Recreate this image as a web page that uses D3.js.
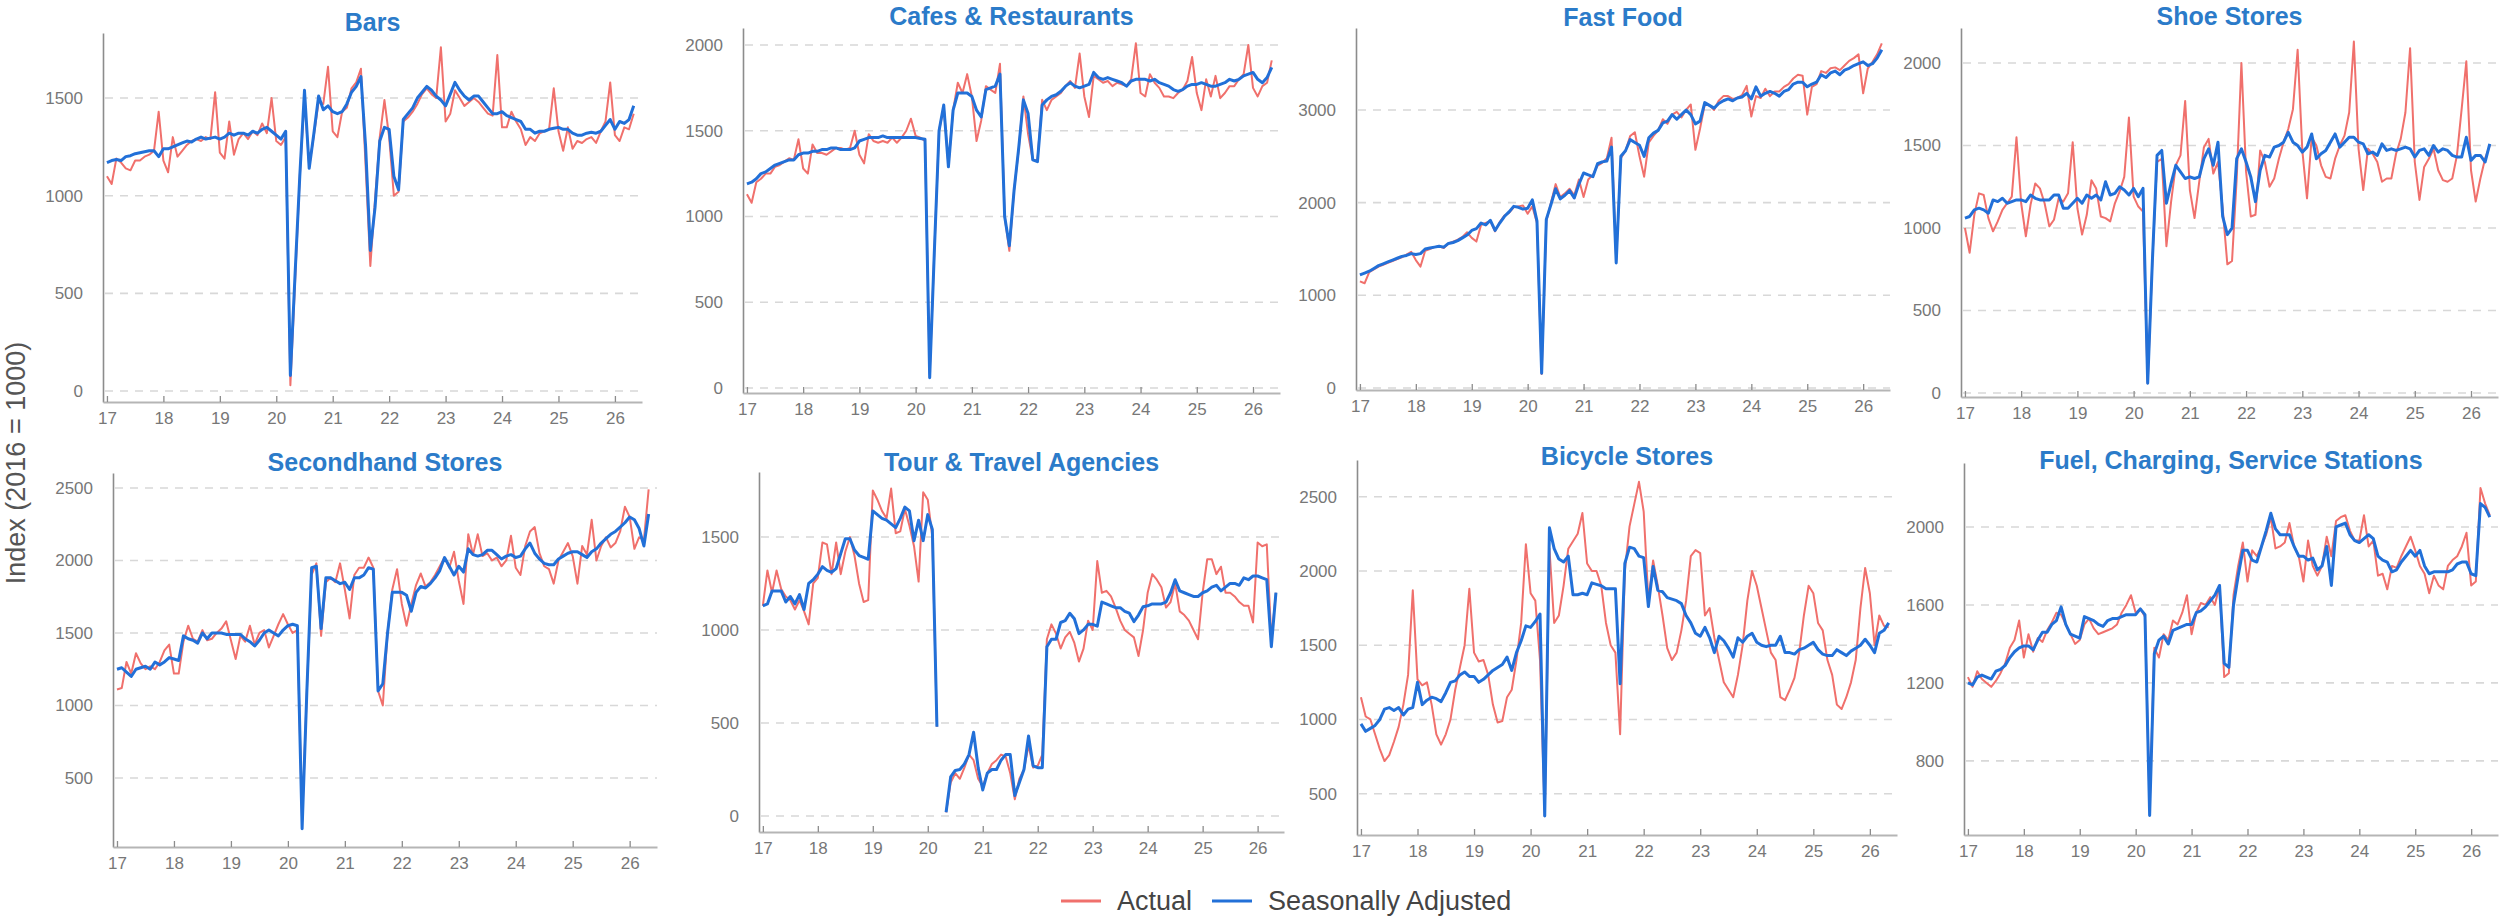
<!DOCTYPE html>
<html>
<head>
<meta charset="utf-8">
<script src="https://cdn.jsdelivr.net/npm/d3@7"></script>
<style>
  body { margin: 0; background: #fff; }
  svg text { font-family: "Liberation Sans", Arial, sans-serif; }
</style>
</head>
<body>
<div id="chart"></div>
<script>
// monthly index values, Jan 2017 .. May 2026 (one line per year)
var startYear = 2017;
var yearTicks = [2017, 2018, 2019, 2020, 2021, 2022, 2023, 2024, 2025, 2026];

var barsActual = [
  1100,1060,1190,1170,1140,1130,1180,1180,1200,1210,1230,1430,
  1180,1120,1300,1200,1230,1260,1280,1290,1280,1300,1290,1530,
  1220,1190,1380,1210,1290,1320,1290,1330,1310,1370,1320,1500,
  1280,1260,1300,30,560,1100,1500,1150,1310,1480,1470,1660,
  1330,1300,1430,1450,1550,1580,1650,1150,640,980,1300,1490,
  1300,1000,1020,1380,1400,1430,1470,1520,1550,1520,1500,1760,
  1380,1420,1540,1500,1460,1480,1500,1480,1450,1420,1410,1720,
  1350,1350,1430,1380,1340,1260,1300,1280,1320,1330,1340,1550,
  1330,1230,1350,1240,1280,1270,1290,1300,1270,1330,1380,1580,
  1310,1280,1350,1340,1420];
var barsSA = [
  1170,1180,1185,1180,1200,1205,1215,1220,1225,1230,1230,1200,
  1240,1240,1250,1260,1270,1280,1275,1290,1300,1290,1295,1300,
  1290,1300,1320,1310,1320,1320,1310,1330,1320,1340,1350,1330,
  1310,1290,1330,80,600,1100,1540,1140,1320,1510,1440,1460,
  1430,1420,1430,1470,1530,1560,1610,1250,720,940,1280,1350,
  1340,1100,1030,1390,1420,1450,1500,1530,1560,1540,1510,1490,
  1460,1520,1580,1540,1510,1490,1510,1510,1480,1450,1420,1420,
  1430,1410,1400,1390,1380,1340,1340,1320,1330,1330,1340,1345,
  1350,1340,1340,1320,1310,1310,1320,1325,1320,1330,1360,1390,
  1340,1380,1370,1390,1460];

var cafesActual = [
  1130,1080,1200,1220,1250,1250,1290,1300,1320,1340,1330,1450,
  1280,1250,1420,1370,1370,1360,1380,1400,1400,1390,1400,1500,
  1360,1310,1480,1440,1430,1440,1430,1460,1430,1460,1500,1570,
  1470,1460,1440,80,800,1500,1640,1300,1620,1780,1720,1830,
  1700,1440,1560,1760,1740,1720,1890,1000,800,1150,1390,1700,
  1480,1330,1330,1680,1620,1680,1700,1720,1760,1790,1750,1950,
  1700,1580,1820,1800,1780,1790,1760,1780,1770,1760,1800,2010,
  1720,1700,1830,1780,1750,1700,1700,1690,1720,1740,1790,1930,
  1720,1620,1800,1700,1820,1690,1720,1760,1760,1800,1830,2000,
  1750,1700,1760,1780,1910];
var cafesSA = [
  1190,1200,1220,1250,1260,1280,1300,1310,1320,1330,1330,1360,
  1370,1370,1380,1380,1390,1390,1400,1400,1390,1390,1390,1400,
  1440,1450,1460,1460,1460,1470,1460,1460,1460,1460,1460,1460,
  1460,1455,1450,60,800,1500,1650,1290,1620,1720,1720,1720,
  1700,1620,1580,1740,1750,1760,1830,1000,830,1150,1400,1680,
  1600,1330,1320,1650,1680,1700,1710,1730,1760,1780,1760,1750,
  1760,1770,1840,1810,1800,1810,1800,1790,1780,1760,1790,1800,
  1800,1800,1790,1800,1780,1770,1760,1740,1730,1740,1760,1770,
  1770,1780,1770,1760,1760,1770,1780,1800,1790,1800,1820,1830,
  1840,1800,1780,1810,1870];

var fastFoodActual = [
  1150,1130,1250,1280,1310,1330,1350,1370,1390,1410,1440,1470,
  1380,1310,1480,1500,1520,1530,1510,1560,1580,1600,1630,1680,
  1620,1580,1760,1780,1800,1690,1790,1860,1890,1950,1960,1970,
  1880,1960,1780,150,1800,2000,2200,2060,2100,2150,2080,2250,
  2060,2250,2300,2400,2430,2480,2700,1380,2480,2560,2720,2760,
  2500,2280,2650,2720,2780,2900,2850,2950,2980,2920,3000,3060,
  2570,2800,3060,3050,3000,3100,3150,3150,3120,3130,3160,3260,
  2930,3150,3130,3230,3150,3200,3200,3250,3280,3340,3380,3370,
  2950,3250,3280,3420,3400,3450,3460,3430,3480,3530,3560,3600,
  3180,3450,3520,3600,3720];
var fastFoodSA = [
  1220,1240,1260,1290,1320,1340,1360,1380,1400,1420,1430,1450,
  1440,1450,1500,1510,1520,1530,1520,1560,1570,1590,1620,1650,
  1700,1720,1780,1760,1810,1700,1780,1850,1900,1960,1950,1930,
  1940,2030,1800,160,1820,1980,2150,2040,2080,2130,2050,2200,
  2320,2300,2280,2420,2440,2450,2600,1350,2500,2560,2680,2650,
  2620,2500,2700,2750,2780,2860,2880,2950,2900,2950,3000,2950,
  2850,2880,3080,3050,3020,3070,3100,3120,3100,3130,3140,3180,
  3120,3250,3150,3180,3200,3180,3150,3200,3220,3280,3300,3300,
  3250,3280,3300,3380,3350,3400,3420,3380,3430,3450,3480,3500,
  3520,3480,3500,3560,3650];

var shoeActual = [
  1000,850,1080,1210,1200,1060,980,1040,1110,1150,1190,1550,
  1150,950,1140,1270,1240,1150,1010,1050,1180,1160,1210,1520,
  1120,960,1080,1290,1240,1070,1060,1040,1150,1220,1310,1670,
  1190,1130,1100,60,800,1400,1420,890,1160,1380,1440,1770,
  1230,1060,1280,1490,1540,1330,1400,1120,780,800,1300,2000,
  1340,1070,1080,1470,1400,1250,1300,1420,1520,1600,1720,2080,
  1470,1180,1550,1500,1380,1310,1300,1420,1500,1560,1700,2130,
  1480,1230,1480,1450,1400,1280,1300,1300,1450,1540,1700,2090,
  1400,1170,1370,1420,1480,1350,1290,1280,1300,1440,1720,2010,
  1350,1160,1300,1420,1500];
var shoeSA = [
  1060,1070,1110,1120,1110,1090,1170,1160,1180,1150,1160,1170,
  1170,1160,1200,1180,1170,1170,1170,1200,1200,1120,1120,1150,
  1180,1150,1200,1180,1200,1170,1280,1200,1210,1250,1230,1200,
  1240,1190,1240,60,800,1440,1470,1150,1270,1380,1340,1300,
  1310,1300,1310,1420,1480,1380,1520,1070,960,1000,1420,1480,
  1400,1310,1160,1350,1440,1430,1490,1500,1520,1580,1520,1500,
  1460,1490,1570,1420,1450,1470,1520,1570,1490,1520,1550,1550,
  1520,1510,1450,1460,1440,1510,1470,1480,1470,1480,1490,1480,
  1430,1470,1480,1440,1500,1460,1480,1470,1440,1430,1430,1550,
  1410,1440,1440,1400,1510];

var secondhandActual = [
  1110,1120,1300,1220,1360,1290,1250,1270,1250,1300,1380,1420,
  1220,1220,1440,1550,1460,1440,1520,1450,1460,1500,1530,1580,
  1450,1320,1480,1440,1550,1420,1500,1520,1400,1480,1560,1630,
  1560,1500,1520,200,1100,1900,1980,1480,1850,1880,1850,1980,
  1800,1600,1900,1950,1950,2020,1950,1100,1000,1500,1800,1940,
  1700,1550,1700,1830,1910,1820,1850,1900,1960,2020,1950,2060,
  1860,1700,2180,2040,2180,2030,2050,2000,2020,1960,2000,2170,
  1950,1900,2100,2200,2230,2050,1960,1940,1840,2000,2060,2120,
  2030,1840,2100,2040,2280,2000,2100,2160,2090,2120,2200,2370,
  2300,2080,2160,2140,2490];
var secondhandSA = [
  1250,1260,1230,1200,1250,1260,1270,1250,1300,1280,1300,1330,
  1320,1310,1480,1460,1450,1430,1500,1460,1500,1500,1500,1490,
  1490,1490,1490,1460,1440,1410,1450,1500,1520,1500,1480,1520,
  1550,1560,1550,150,1100,1950,1960,1530,1880,1880,1860,1840,
  1850,1800,1880,1880,1900,1950,1940,1100,1150,1500,1780,1780,
  1780,1760,1650,1780,1820,1810,1840,1880,1930,2020,1960,1900,
  1960,1920,2080,2040,2030,2040,2070,2070,2040,2010,2030,2040,
  2020,2030,2080,2120,2050,2010,1980,1970,1970,2010,2030,2050,
  2060,2060,2040,2020,2060,2080,2120,2150,2180,2200,2230,2260,
  2300,2280,2220,2100,2320];

var tourActual = [
  1130,1320,1200,1320,1220,1180,1160,1110,1160,1100,1030,1250,
  1280,1470,1460,1300,1470,1300,1420,1500,1400,1250,1150,1160,
  1750,1700,1640,1600,1760,1520,1530,1650,1560,1450,1260,1740,
  1700,1500,480,null,20,180,230,200,260,330,300,200,
  160,230,280,300,330,320,230,90,200,250,380,260,
  270,330,950,1030,980,900,960,990,930,830,900,1050,
  1000,1370,1200,1210,1180,1120,1050,1000,980,960,860,1000,
  1200,1300,1270,1230,1120,1150,1250,1100,1080,1050,1000,950,
  1200,1380,1380,1300,1340,1200,1200,1180,1150,1130,1130,1040,
  1470,1450,1460,950,1200];
var tourSA = [
  1130,1140,1210,1210,1210,1150,1180,1140,1190,1110,1250,1270,
  1300,1340,1320,1310,1330,1410,1490,1490,1430,1400,1390,1380,
  1640,1620,1600,1590,1570,1550,1600,1660,1640,1480,1590,1480,
  1620,1540,480,null,20,210,245,250,280,330,450,260,
  140,230,250,250,300,330,330,110,180,250,430,270,
  260,260,910,950,950,1040,1050,1090,1060,980,1000,1030,
  1030,1020,1150,1140,1130,1120,1120,1100,1090,1045,1080,1125,
  1130,1140,1140,1140,1150,1200,1270,1210,1200,1190,1180,1180,
  1200,1210,1230,1240,1210,1230,1250,1250,1240,1280,1270,1290,
  1290,1280,1270,910,1200];

var bicycleActual = [
  1150,1020,1000,900,800,720,760,850,950,1100,1300,1870,
  1270,1230,1250,1100,900,830,900,1000,1200,1350,1500,1880,
  1450,1390,1400,1300,1100,980,990,1150,1200,1400,1650,2180,
  1850,1800,1400,350,2150,1650,1700,1900,2150,2200,2250,2390,
  2050,2000,2000,1900,1650,1500,1450,900,2000,2300,2450,2600,
  2400,1800,2070,1900,1700,1480,1400,1450,1600,1800,2100,2140,
  2120,1700,1750,1550,1400,1250,1200,1150,1300,1500,1800,2000,
  1900,1750,1600,1450,1400,1150,1130,1200,1280,1450,1700,1900,
  1850,1650,1600,1400,1300,1100,1070,1150,1250,1400,1750,2020,
  1850,1500,1700,1630,1620];
var bicycleSA = [
  970,920,940,960,1000,1070,1080,1060,1080,1030,1070,1080,
  1250,1100,1130,1150,1140,1120,1180,1250,1260,1300,1320,1290,
  1290,1250,1270,1300,1330,1350,1370,1420,1330,1450,1530,1630,
  1620,1660,1710,350,2290,2150,2080,2060,2100,1840,1840,1850,
  1840,1920,1910,1900,1880,1880,1880,1240,2050,2160,2150,2100,
  2090,1760,2030,1870,1860,1820,1810,1800,1780,1700,1650,1580,
  1560,1620,1550,1450,1560,1530,1480,1420,1550,1520,1560,1580,
  1520,1500,1490,1500,1500,1560,1450,1450,1440,1470,1480,1500,
  1520,1470,1440,1430,1430,1470,1450,1430,1460,1480,1500,1540,
  1500,1450,1580,1600,1650];

var fuelActual = [
  1230,1180,1260,1220,1200,1180,1210,1250,1300,1380,1420,1520,
  1330,1450,1360,1430,1410,1470,1510,1560,1550,1500,1450,1400,
  1420,1500,1530,1480,1450,1460,1470,1480,1500,1560,1600,1650,
  1560,1580,1540,560,1380,1330,1450,1420,1520,1500,1560,1650,
  1450,1560,1610,1600,1640,1600,1700,1230,1250,1650,1800,1920,
  1720,1880,1850,1900,1960,2050,1890,1900,1920,2020,1900,1850,
  1720,1930,1800,1750,1800,1950,1850,2030,2050,2060,1980,1930,
  1930,2060,1900,1930,1750,1760,1680,1800,1790,1850,1900,1950,
  1880,1800,1760,1660,1750,1700,1680,1800,1830,1850,1900,1970,
  1700,1720,2200,2120,2060];
var fuelSA = [
  1200,1190,1230,1240,1230,1220,1260,1270,1290,1330,1360,1380,
  1390,1390,1370,1420,1460,1460,1500,1520,1590,1500,1450,1440,
  1430,1540,1530,1520,1500,1490,1520,1530,1530,1540,1550,1550,
  1550,1580,1550,520,1350,1420,1440,1400,1470,1480,1490,1500,
  1500,1560,1570,1590,1620,1650,1700,1300,1280,1600,1750,1880,
  1880,1830,1820,1900,1980,2070,1990,1960,1960,1960,1900,1850,
  1850,1830,1840,1780,1800,1900,1700,2000,2010,2020,1960,1930,
  1920,1940,1960,1940,1850,1830,1820,1770,1780,1820,1850,1880,
  1850,1880,1800,1760,1770,1770,1770,1770,1780,1810,1820,1820,
  1760,1750,2120,2100,2050];

// y tick values per panel
var barsTicks = [0, 500, 1000, 1500];
var cafesTicks = [0, 500, 1000, 1500, 2000];
var fastFoodTicks = [0, 1000, 2000, 3000];
var shoeTicks = [0, 500, 1000, 1500, 2000];
var secondhandTicks = [500, 1000, 1500, 2000, 2500];
var tourTicks = [0, 500, 1000, 1500];
var bicycleTicks = [500, 1000, 1500, 2000, 2500];
var fuelTicks = [800, 1200, 1600, 2000];

var panels = [
  {title: "Bars", actual: barsActual, sa: barsSA, ticks: barsTicks},
  {title: "Cafes & Restaurants", actual: cafesActual, sa: cafesSA, ticks: cafesTicks},
  {title: "Fast Food", actual: fastFoodActual, sa: fastFoodSA, ticks: fastFoodTicks},
  {title: "Shoe Stores", actual: shoeActual, sa: shoeSA, ticks: shoeTicks},
  {title: "Secondhand Stores", actual: secondhandActual, sa: secondhandSA, ticks: secondhandTicks},
  {title: "Tour & Travel Agencies", actual: tourActual, sa: tourSA, ticks: tourTicks},
  {title: "Bicycle Stores", actual: bicycleActual, sa: bicycleSA, ticks: bicycleTicks},
  {title: "Fuel, Charging, Service Stations", actual: fuelActual, sa: fuelSA, ticks: fuelTicks}
];

// where each panel sits (pixels) and its value range
var layout = [
  {left: 103,  width: 539, top: 33,  bottom: 402, domain: [-56, 1833], titleY: 22},
  {left: 743,  width: 537, top: 28,  bottom: 393, domain: [-29, 2099], titleY: 16},
  {left: 1356, width: 534, top: 28,  bottom: 390, domain: [-22, 3885], titleY: 17},
  {left: 1961, width: 537, top: 28,  bottom: 397, domain: [-24, 2212], titleY: 16},
  {left: 113,  width: 544, top: 473, bottom: 847, domain: [24, 2603],  titleY: 462},
  {left: 759,  width: 525, top: 472, bottom: 832, domain: [-86, 1849], titleY: 462},
  {left: 1357, width: 540, top: 460, bottom: 835, domain: [222, 2747], titleY: 456},
  {left: 1964, width: 534, top: 463, bottom: 835, domain: [420, 2328], titleY: 460}
];

var width = 2501, height = 916;
var colActual = "#f0706c", colSA = "#2270d8";

var svg = d3.select("#chart").append("svg")
  .attr("width", width)
  .attr("height", height);

panels.forEach(function(p, k) {
  var L = layout[k];
  var x = d3.scaleLinear().domain([2016.93, 2026.48]).range([L.left, L.left + L.width]);
  var y = d3.scaleLinear().domain(L.domain).range([L.bottom, L.top]);
  var g = svg.append("g");

  // dashed gridlines
  g.selectAll("line.grid").data(p.ticks).enter().append("line")
    .attr("class", "grid")
    .attr("x1", L.left + 2).attr("x2", L.left + L.width)
    .attr("y1", function(d) { return y(d); })
    .attr("y2", function(d) { return y(d); })
    .attr("stroke", "#d8d8d8").attr("stroke-width", 1.6)
    .attr("stroke-dasharray", "8,7");

  // y axis
  var yAxis = g.append("g")
    .attr("transform", "translate(" + L.left + ",0)")
    .call(d3.axisLeft(y).tickValues(p.ticks).tickFormat(d3.format("d"))
      .tickSize(0).tickSizeOuter(0).tickPadding(20));
  yAxis.select(".domain").attr("stroke", "#8c8c8c").attr("stroke-width", 1.6);
  yAxis.selectAll("text").attr("font-size", 17).attr("fill", "#777")
    .attr("font-family", "Liberation Sans, Arial, sans-serif");

  // x axis
  var xAxis = g.append("g")
    .attr("transform", "translate(0," + L.bottom + ")")
    .call(d3.axisBottom(x).tickValues(yearTicks)
      .tickFormat(function(d) { return String(d).slice(2); })
      .tickSize(-6).tickSizeOuter(0).tickPadding(10));
  xAxis.select(".domain").attr("stroke", "#b5b5b5").attr("stroke-width", 2.2);
  xAxis.selectAll(".tick line").attr("stroke", "#8c8c8c").attr("stroke-width", 1.3);
  xAxis.selectAll("text").attr("font-size", 17).attr("fill", "#777")
    .attr("font-family", "Liberation Sans, Arial, sans-serif");

  var line = d3.line()
    .defined(function(d) { return d.v != null; })
    .x(function(d) { return x(d.t); })
    .y(function(d) { return y(d.v); });
  var toPoints = function(arr) {
    return arr.map(function(v, i) { return {t: startYear + i / 12, v: v}; });
  };

  g.append("path").datum(toPoints(p.actual))
    .attr("d", line).attr("fill", "none")
    .attr("stroke", colActual).attr("stroke-width", 2)
    .attr("stroke-linejoin", "round");
  g.append("path").datum(toPoints(p.sa))
    .attr("d", line).attr("fill", "none")
    .attr("stroke", colSA).attr("stroke-width", 3)
    .attr("stroke-linejoin", "round");

  // panel title
  g.append("text")
    .attr("x", L.left + L.width / 2).attr("y", L.titleY)
    .attr("text-anchor", "middle").attr("dominant-baseline", "central")
    .attr("font-size", 25).attr("font-weight", "bold")
    .attr("fill", "#2b7bc9")
    .text(p.title);
});

// shared y label
svg.append("text")
  .attr("transform", "translate(16,463) rotate(-90)")
  .attr("text-anchor", "middle").attr("dominant-baseline", "central")
  .attr("font-size", 27).attr("fill", "#555")
  .text("Index (2016 = 1000)");

// legend
var legend = svg.append("g").attr("transform", "translate(0,901)");
var legendItems = [
  {label: "Actual", color: colActual, x: 1061},
  {label: "Seasonally Adjusted", color: colSA, x: 1212}
];
legendItems.forEach(function(d) {
  legend.append("line")
    .attr("x1", d.x).attr("x2", d.x + 40)
    .attr("stroke", d.color).attr("stroke-width", 3);
  legend.append("text")
    .attr("x", d.x + 56).attr("dominant-baseline", "central")
    .attr("font-size", 27).attr("fill", "#444")
    .text(d.label);
});
</script>
</body>
</html>
